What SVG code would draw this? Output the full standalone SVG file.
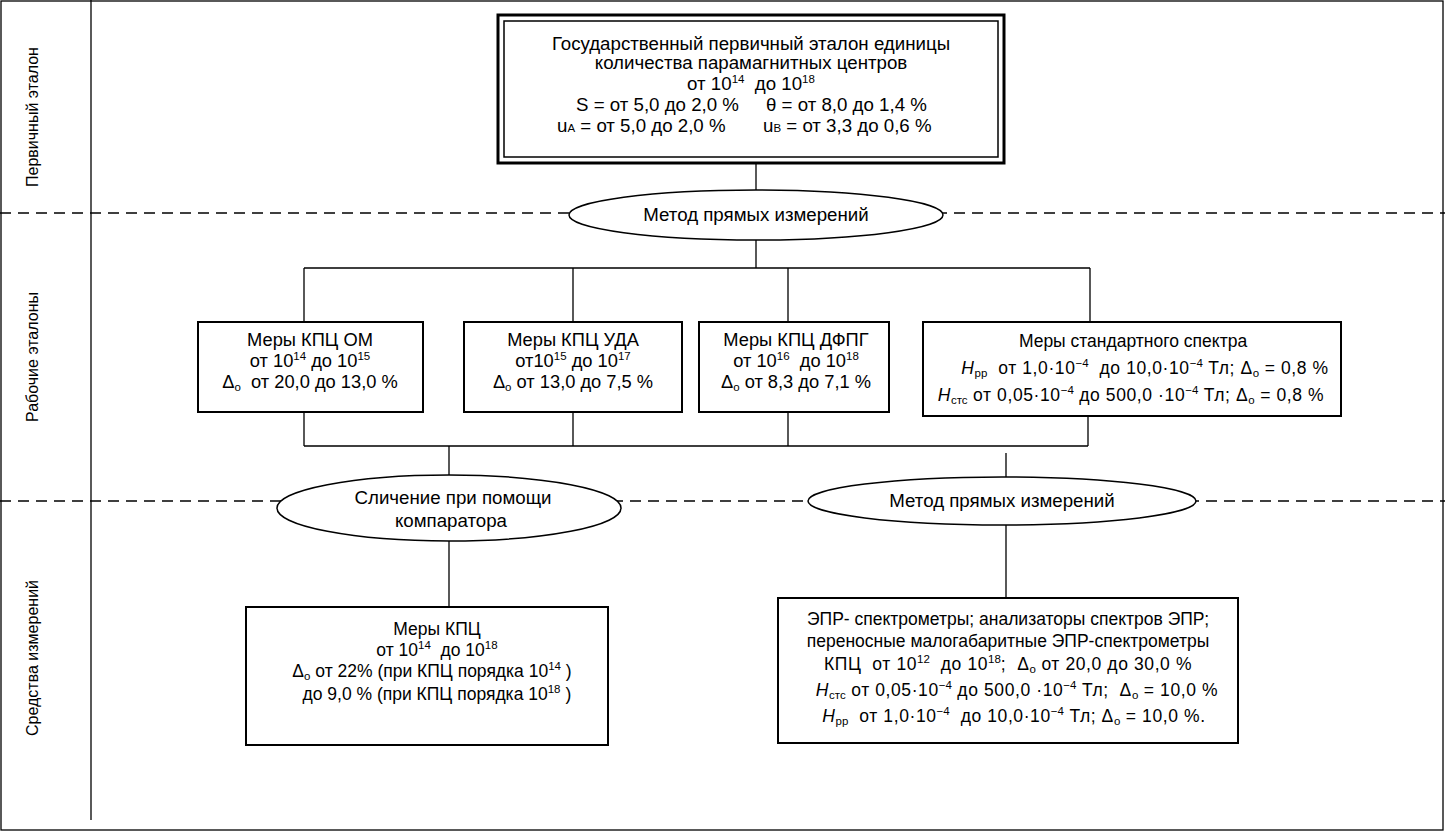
<svg xmlns="http://www.w3.org/2000/svg" width="1445" height="832" viewBox="0 0 1445 832">
<style>
.t{font-family:"Liberation Sans",Arial,sans-serif;font-size:17.5px;fill:#000;text-anchor:middle;white-space:pre}
.p{font-size:18.7px}
.e{font-size:18.7px}
.m{font-size:18.3px}
.w{letter-spacing:0.6px}
.l{font-family:"Liberation Sans",Arial,sans-serif;font-size:16px;fill:#000;text-anchor:middle}
.st{text-anchor:start}
.s{font-size:11.5px;letter-spacing:0}
.box{fill:#fff;stroke:#000;stroke-width:2}
.ell{fill:#fff;stroke:#000;stroke-width:1.5}
.c{fill:none;stroke:#000;stroke-width:1.3}
.d{fill:none;stroke:#000;stroke-width:1.5;stroke-dasharray:11 7}
.i{font-style:italic}
</style>
<rect x="0" y="0" width="1445" height="832" fill="#fff"/>
<g id="frame">
<rect x="1" y="1" width="1442" height="829" fill="none" stroke="#000" stroke-width="1.3"/>
<line x1="91" y1="0" x2="91" y2="820" stroke="#000" stroke-width="1.3"/>
<line class="d" x1="0" y1="213" x2="1445" y2="213"/>
<line class="d" x1="0" y1="501" x2="1445" y2="501"/>
<text class="l" transform="translate(38,117) rotate(-90)">Первичный эталон</text>
<text class="l" transform="translate(38,357) rotate(-90)">Рабочие эталоны</text>
<text class="l" transform="translate(38,658) rotate(-90)">Средства измерений</text>
</g>
<g id="connectors">
<path class="c" d="M756 163V190"/>
<path class="c" d="M756 240V268M304 268H1090M304 268V322M573 268V322M788 268V322M1090 268V322"/>
<path class="c" d="M304 412V446M573 412V446M788 412V446M1088 416V446M304 446H1088"/>
<path class="c" d="M449 446V475M1006 453V477"/>
<path class="c" d="M449 541V607M1006 525V598"/>
</g>
<g id="primary">
<rect x="498" y="15" width="506" height="148" fill="#fff" stroke="#000" stroke-width="3"/>
<rect x="504" y="21" width="494" height="136" fill="none" stroke="#000" stroke-width="1.5"/>
<text class="t p" x="751" y="50">Государственный первичный эталон единицы</text>
<text class="t p" x="751" y="69">количества парамагнитных центров</text>
<text class="t p" x="751" y="90">от 10<tspan class="s" dy="-7">14</tspan><tspan dy="7">  до 10</tspan><tspan class="s" dy="-7">18</tspan></text>
<text class="t p st" x="576" y="111">S = от 5,0 до 2,0 %</text>
<text class="t p st" x="766" y="111">θ = от 8,0 до 1,4 %</text>
<text class="t p st" x="557" y="132">u<tspan class="s">A</tspan> = от 5,0 до 2,0 %</text>
<text class="t p st" x="763" y="132">u<tspan class="s">B</tspan> = от 3,3 до 0,6 %</text>
</g>
<g id="method1">
<ellipse class="ell" cx="756" cy="215" rx="187" ry="25"/>
<text class="t e" x="756" y="221">Метод прямых измерений</text>
</g>
<g id="om">
<rect class="box" x="198" y="322" width="225" height="90"/>
<text class="t m" x="310" y="346">Меры КПЦ ОМ</text>
<text class="t m" x="310" y="367">от 10<tspan class="s" dy="-7">14</tspan><tspan dy="7"> до 10</tspan><tspan class="s" dy="-7">15</tspan></text>
<text class="t m" x="310" y="388">Δ<tspan class="s" dy="3">о</tspan><tspan dy="-3">  от 20,0 до 13,0 %</tspan></text>
</g>
<g id="uda">
<rect class="box" x="464" y="322" width="218" height="90"/>
<text class="t m" x="573" y="346">Меры КПЦ УДА</text>
<text class="t m" x="573" y="367">от10<tspan class="s" dy="-7">15</tspan><tspan dy="7"> до 10</tspan><tspan class="s" dy="-7">17</tspan></text>
<text class="t m" x="573" y="388">Δ<tspan class="s" dy="3">о</tspan><tspan dy="-3"> от 13,0 до 7,5 %</tspan></text>
</g>
<g id="dfpg">
<rect class="box" x="699" y="322" width="190" height="90"/>
<text class="t m" x="796" y="346">Меры КПЦ ДФПГ</text>
<text class="t m" x="796" y="367">от 10<tspan class="s" dy="-7">16</tspan><tspan dy="7">  до 10</tspan><tspan class="s" dy="-7">18</tspan></text>
<text class="t m" x="796" y="388">Δ<tspan class="s" dy="3">о</tspan><tspan dy="-3"> от 8,3 до 7,1 %</tspan></text>
</g>
<g id="spectrum">
<rect class="box" x="923" y="322" width="418" height="94"/>
<text class="t" x="1133" y="347">Меры стандартного спектра</text>
<text class="t w" x="1145" y="374"><tspan class="i">H</tspan><tspan class="s" dy="3">рр</tspan><tspan dy="-3">  от 1,0·10</tspan><tspan class="s" dy="-7">−4</tspan><tspan dy="7">  до 10,0·10</tspan><tspan class="s" dy="-7">−4</tspan><tspan dy="7"> Тл; Δ</tspan><tspan class="s" dy="3">о</tspan><tspan dy="-3"> = 0,8 %</tspan></text>
<text class="t w" x="1131" y="401"><tspan class="i">H</tspan><tspan class="s" dy="3">стс</tspan><tspan dy="-3"> от 0,05·10</tspan><tspan class="s" dy="-7">−4</tspan><tspan dy="7"> до 500,0 ·10</tspan><tspan class="s" dy="-7">−4</tspan><tspan dy="7"> Тл; Δ</tspan><tspan class="s" dy="3">о</tspan><tspan dy="-3"> = 0,8 %</tspan></text>
</g>
<g id="comparator">
<ellipse class="ell" cx="449" cy="508" rx="172" ry="33"/>
<text class="t e" x="453" y="504">Сличение при помощи</text>
<text class="t e" x="451" y="527">компаратора</text>
</g>
<g id="method2">
<ellipse class="ell" cx="1002" cy="501" rx="194" ry="24"/>
<text class="t e" x="1002" y="507">Метод прямых измерений</text>
</g>
<g id="kpc">
<rect class="box" x="246" y="607" width="362" height="138"/>
<text class="t" x="437" y="635">Меры КПЦ</text>
<text class="t" x="437" y="656">от 10<tspan class="s" dy="-7">14</tspan><tspan dy="7">  до 10</tspan><tspan class="s" dy="-7">18</tspan></text>
<text class="t" x="432" y="677">Δ<tspan class="s" dy="3">о</tspan><tspan dy="-3"> от 22% (при КПЦ порядка 10</tspan><tspan class="s" dy="-7">14</tspan><tspan dy="7"> )</tspan></text>
<text class="t" x="432" y="700">  до 9,0 % (при КПЦ порядка 10<tspan class="s" dy="-7">18</tspan><tspan dy="7"> )</tspan></text>
</g>
<g id="epr">
<rect class="box" x="778" y="598" width="460" height="145"/>
<text class="t" x="1008" y="625">ЭПР- спектрометры; анализаторы спектров ЭПР;</text>
<text class="t" x="1008" y="647">переносные малогабаритные ЭПР-спектрометры</text>
<text class="t w" x="1008" y="670">КПЦ  от 10<tspan class="s" dy="-7">12</tspan><tspan dy="7">  до 10</tspan><tspan class="s" dy="-7">18</tspan><tspan dy="7">;  Δ</tspan><tspan class="s" dy="3">о</tspan><tspan dy="-3"> от 20,0 до 30,0 %</tspan></text>
<text class="t w" x="1017" y="696"><tspan class="i">H</tspan><tspan class="s" dy="3">стс</tspan><tspan dy="-3"> от 0,05·10</tspan><tspan class="s" dy="-7">−4</tspan><tspan dy="7"> до 500,0 ·10</tspan><tspan class="s" dy="-7">−4</tspan><tspan dy="7"> Тл;  Δ</tspan><tspan class="s" dy="3">о</tspan><tspan dy="-3"> = 10,0 %</tspan></text>
<text class="t w" x="1014" y="722"><tspan class="i">H</tspan><tspan class="s" dy="3">рр</tspan><tspan dy="-3">  от 1,0·10</tspan><tspan class="s" dy="-7">−4</tspan><tspan dy="7">  до 10,0·10</tspan><tspan class="s" dy="-7">−4</tspan><tspan dy="7"> Тл; Δ</tspan><tspan class="s" dy="3">о</tspan><tspan dy="-3"> = 10,0 %.</tspan></text>
</g>
</svg>
